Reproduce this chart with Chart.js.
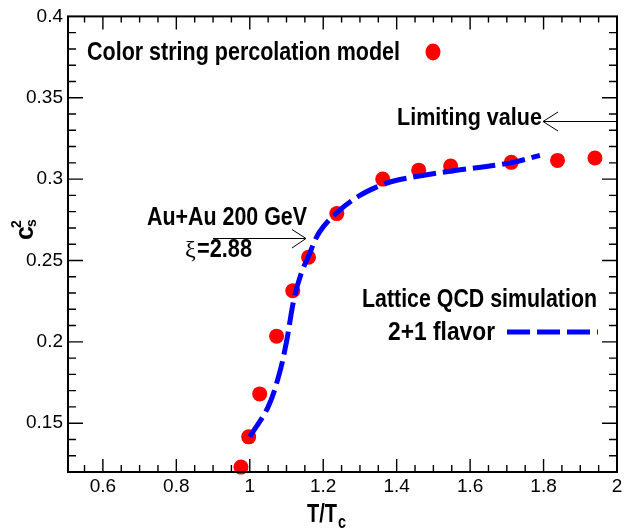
<!DOCTYPE html>
<html>
<head>
<meta charset="utf-8">
<script src="https://cdn.jsdelivr.net/npm/chart.js@4.4.0/dist/chart.umd.min.js"></script>
<style>
  html, body { margin: 0; padding: 0; background: #fff; overflow: hidden; }
</style>
</head>
<body>
<canvas id="chart" width="628" height="529"></canvas>
<script>
// Color string percolation model points (T/Tc, c_s^2)
const percT = [0.976, 0.997, 1.027, 1.073, 1.117, 1.16, 1.237, 1.362, 1.46, 1.547, 1.712, 1.838, 1.94];
const percCs2 = [0.123, 0.1416, 0.168, 0.2035, 0.2314, 0.252, 0.2788, 0.300, 0.3055, 0.308, 0.3103, 0.3115, 0.313];

// Lattice QCD 2+1 flavor curve
const latticeT = [1.0, 1.05, 1.08, 1.10, 1.12, 1.14, 1.16, 1.19, 1.24, 1.30, 1.36, 1.40, 1.47, 1.55, 1.71, 1.79];
const latticeCs2 = [0.1416, 0.160, 0.180, 0.200, 0.226, 0.242, 0.2527, 0.2675, 0.2800, 0.2900, 0.2965, 0.2993, 0.3022, 0.305, 0.310, 0.3146];

// axis ticks
const xTickValues = [0.6, 0.8, 1, 1.2, 1.4, 1.6, 1.8, 2];
const xTickLabels = ['0.6', '0.8', '1', '1.2', '1.4', '1.6', '1.8', '2'];
const yTickValues = [0.15, 0.2, 0.25, 0.3, 0.35, 0.4];
const yTickLabels = ['0.15', '0.2', '0.25', '0.3', '0.35', '0.4'];

const boldFont = size => 'bold ' + size + 'px "Liberation Sans", Arial, sans-serif';

// ROOT style frame with inward ticks on all four sides
const frameTicks = {
    id: 'frameTicks',
    afterDatasetsDraw(chart) {
        const ctx = chart.ctx;
        const a = chart.chartArea;
        const xs = chart.scales.x, ys = chart.scales.y;
        ctx.save();
        ctx.strokeStyle = '#000';
        ctx.lineWidth = 1.4;
        ctx.beginPath();
        for (let i = 11; i <= 40; i++) {
            const px = xs.getPixelForValue(i * 0.05);
            if (px < a.left + 1 || px > a.right - 1) continue;
            const major = i % 4 === 0;
            ctx.moveTo(px, a.bottom); ctx.lineTo(px, a.bottom - (major ? 13 : 7));
            ctx.moveTo(px, a.top); ctx.lineTo(px, a.top + (major ? 13 : 6));
        }
        for (let i = 13; i <= 39; i++) {
            const py = ys.getPixelForValue(i * 0.01);
            const major = i % 5 === 0;
            ctx.moveTo(a.left, py); ctx.lineTo(a.left + (major ? 15 : 8), py);
            ctx.moveTo(a.right, py); ctx.lineTo(a.right - (major ? 15 : 8), py);
        }
        ctx.stroke();
        ctx.lineWidth = 2;
        ctx.strokeRect(a.left, a.top, a.right - a.left, a.bottom - a.top);
        ctx.restore();
    },
    afterDraw(chart) {
        const ctx = chart.ctx;
        ctx.save();
        ctx.fillStyle = '#000';
        ctx.textBaseline = 'alphabetic';
        ctx.textAlign = 'left';

        // legend: percolation model
        ctx.font = boldFont(26);
        ctx.fillText('Color string percolation model', 87, 60, 313);
        ctx.fillStyle = '#ff0000';
        ctx.beginPath();
        ctx.ellipse(433, 52, 7.5, 8.5, 0, 0, Math.PI * 2);
        ctx.fill();

        // legend: lattice
        ctx.fillStyle = '#000';
        ctx.font = boldFont(25);
        ctx.fillText('Lattice QCD simulation', 362, 307, 235);
        ctx.fillText('2+1 flavor', 388, 340, 107);
        ctx.strokeStyle = '#0000ff';
        ctx.lineWidth = 5;
        ctx.setLineDash([23, 7]);
        ctx.beginPath();
        ctx.moveTo(507, 332); ctx.lineTo(598, 332);
        ctx.stroke();
        ctx.setLineDash([]);

        // limiting value
        ctx.font = boldFont(23);
        ctx.fillText('Limiting value', 397, 125, 145);
        ctx.strokeStyle = '#000';
        ctx.lineWidth = 1;
        ctx.beginPath();
        ctx.moveTo(616, 121.5); ctx.lineTo(543, 121.5);
        ctx.moveTo(558, 112); ctx.lineTo(543, 121.5); ctx.lineTo(558, 131);
        ctx.stroke();

        // Au+Au label
        ctx.font = boldFont(25);
        ctx.fillText('Au+Au 200 GeV', 147, 225, 160);
        ctx.font = '24px "Liberation Serif", serif';
        ctx.fillText('ξ', 185, 257);
        ctx.font = boldFont(25);
        ctx.fillText('=2.88', 197, 257, 55);
        ctx.beginPath();
        ctx.moveTo(213, 238.5); ctx.lineTo(306, 238.5);
        ctx.moveTo(292, 229.5); ctx.lineTo(306, 238.5); ctx.lineTo(292, 248);
        ctx.stroke();

        // x title
        ctx.font = boldFont(26);
        ctx.fillText('T/T', 307, 522, 30);
        ctx.font = boldFont(19);
        ctx.fillText('c', 338, 528, 8);

        // y title
        ctx.translate(33, 240);
        ctx.rotate(-Math.PI / 2);
        ctx.font = boldFont(25);
        ctx.fillText('c', 0, 0);
        ctx.font = boldFont(14);
        ctx.fillText('2', 12, -12);
        ctx.fillText('s', 13, 3);
        ctx.restore();
    }
};

new Chart(document.getElementById('chart'), {
    type: 'scatter',
    data: {
        datasets: [{
            type: 'line',
            label: 'Lattice QCD simulation 2+1 flavor',
            data: latticeT.map((t, i) => ({ x: t, y: latticeCs2[i] })),
            borderColor: '#0000ff',
            borderWidth: 5,
            borderDash: [23, 7],
            borderCapStyle: 'butt',
            tension: 0.35,
            pointRadius: 0,
            fill: false,
            order: 0
        }, {
            label: 'Color string percolation model',
            data: percT.map((t, i) => ({ x: t, y: percCs2[i] })),
            pointRadius: 7.5,
            pointBackgroundColor: '#ff0000',
            pointBorderWidth: 0,
            clip: false,
            order: 1
        }]
    },
    options: {
        responsive: false,
        animation: false,
        layout: { padding: { left: 0, right: 11, top: 12, bottom: 0 } },
        plugins: { legend: { display: false }, tooltip: { enabled: false } },
        scales: {
            x: {
                type: 'linear',
                min: 0.505, max: 2.0,
                grid: { display: false, drawTicks: false },
                border: { display: false },
                afterBuildTicks: s => { s.ticks = xTickValues.map(v => ({ value: v })); },
                afterFit: s => { s.height = 57; },
                ticks: {
                    padding: 3,
                    color: '#000',
                    font: { family: '"Liberation Sans", Arial, sans-serif', size: 19 },
                    maxRotation: 0,
                    callback: (v, i) => xTickLabels[i]
                }
            },
            y: {
                type: 'linear',
                min: 0.12, max: 0.4,
                grid: { display: false, drawTicks: false },
                border: { display: false },
                afterBuildTicks: s => { s.ticks = yTickValues.map(v => ({ value: v })); },
                afterFit: s => { s.width = 68; },
                ticks: {
                    padding: 5,
                    color: '#000',
                    font: { family: '"Liberation Sans", Arial, sans-serif', size: 19 },
                    callback: (v, i) => yTickLabels[i]
                }
            }
        }
    },
    plugins: [frameTicks]
});
</script>
</body>
</html>
